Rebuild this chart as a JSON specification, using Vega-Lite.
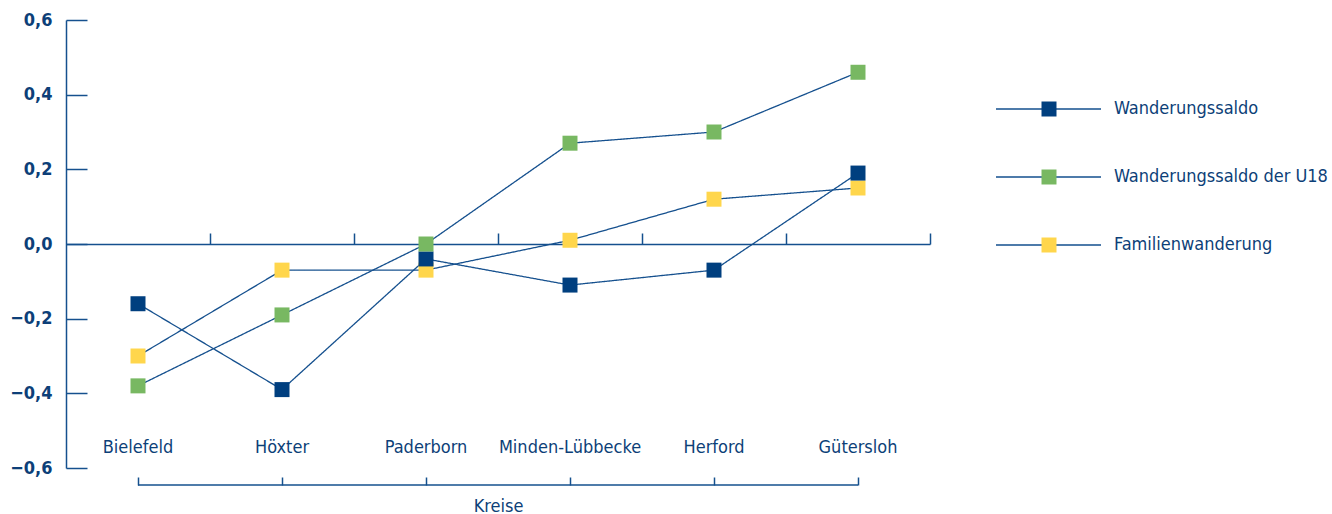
{
  "$schema": "https://vega.github.io/schema/vega-lite/v6.json",
  "width": 864,
  "height": 448,
  "autosize": {"type": "none"},
  "padding": {"left": 66, "top": 20, "right": 402, "bottom": 46},
  "background": "white",
  "config": {
    "view": {"stroke": null},
    "font": "DejaVu Sans Condensed, DejaVu Sans, sans-serif",
    "axis": {"grid": false, "labelFont": "DejaVu Sans Condensed, DejaVu Sans, sans-serif", "titleFont": "DejaVu Sans Condensed, DejaVu Sans, sans-serif", "labelColor": "#0d3f78", "titleColor": "#0d3f78", "domainColor": "#15508e", "tickColor": "#15508e", "domainWidth": 1.5, "tickWidth": 1.5},
    "axisY": {"orient": "left", "tickSize": -21, "labelPadding": 35, "labelFontSize": 18, "labelFontWeight": "bold", "labelColor": "#0d3f78"},
    "legend": {"labelFont": "DejaVu Sans Condensed, DejaVu Sans, sans-serif"}
  },
  "datasets": {
    "punkte": [
      {"kreis": "Bielefeld", "serie": "Familienwanderung", "wert": -0.30},
      {"kreis": "Höxter", "serie": "Familienwanderung", "wert": -0.07},
      {"kreis": "Paderborn", "serie": "Familienwanderung", "wert": -0.07},
      {"kreis": "Minden-Lübbecke", "serie": "Familienwanderung", "wert": 0.01},
      {"kreis": "Herford", "serie": "Familienwanderung", "wert": 0.12},
      {"kreis": "Gütersloh", "serie": "Familienwanderung", "wert": 0.15},
      {"kreis": "Bielefeld", "serie": "Wanderungssaldo", "wert": -0.16},
      {"kreis": "Höxter", "serie": "Wanderungssaldo", "wert": -0.39},
      {"kreis": "Paderborn", "serie": "Wanderungssaldo", "wert": -0.04},
      {"kreis": "Minden-Lübbecke", "serie": "Wanderungssaldo", "wert": -0.11},
      {"kreis": "Herford", "serie": "Wanderungssaldo", "wert": -0.07},
      {"kreis": "Gütersloh", "serie": "Wanderungssaldo", "wert": 0.19},
      {"kreis": "Bielefeld", "serie": "Wanderungssaldo der U18", "wert": -0.38},
      {"kreis": "Höxter", "serie": "Wanderungssaldo der U18", "wert": -0.19},
      {"kreis": "Paderborn", "serie": "Wanderungssaldo der U18", "wert": 0.0},
      {"kreis": "Minden-Lübbecke", "serie": "Wanderungssaldo der U18", "wert": 0.27},
      {"kreis": "Herford", "serie": "Wanderungssaldo der U18", "wert": 0.30},
      {"kreis": "Gütersloh", "serie": "Wanderungssaldo der U18", "wert": 0.46}
    ],
    "klammer": [
      {"von": "Bielefeld", "bis": "Gütersloh"}
    ]
  },
  "layer": [
    {
      "data": {"name": "punkte"},
      "mark": {"type": "line", "color": "#15508e", "strokeWidth": 1.3},
      "encoding": {
        "x": {
          "field": "kreis", "type": "nominal",
          "scale": {"type": "band", "paddingInner": 0, "paddingOuter": 0, "domain": ["Bielefeld", "Höxter", "Paderborn", "Minden-Lübbecke", "Herford", "Gütersloh"]},
          "axis": {"orient": "top", "offset": -224, "labels": false, "title": null, "tickSize": 11, "bandPosition": 1}
        },
        "y": {
          "field": "wert", "type": "quantitative", "title": null,
          "scale": {"domain": [-0.6, 0.6], "nice": false, "zero": false},
          "axis": {"values": [-0.6, -0.4, -0.2, 0, 0.2, 0.4, 0.6], "labelExpr": "replace(format(datum.value, '.1f'), '.', ',')", "title": null}
        },
        "strokeDash": {
          "field": "serie", "type": "nominal",
          "scale": {"domain": ["Wanderungssaldo", "Wanderungssaldo der U18", "Familienwanderung"], "range": [[1, 0], [1, 0], [1, 0]]},
          "legend": {"orient": "none", "legendX": 929, "legendY": 79, "title": null, "symbolType": "stroke", "symbolSize": 11025, "symbolStrokeColor": "#15508e", "symbolStrokeWidth": 1.5, "symbolDash": [1, 0], "labelFontSize": 20, "labelExpr": "''", "rowPadding": 48, "clipHeight": 20}
        }
      }
    },
    {
      "data": {"name": "punkte"},
      "mark": {"type": "point", "shape": "square", "filled": true, "size": 225, "opacity": 1},
      "encoding": {
        "x": {
          "field": "kreis", "type": "nominal",
          "axis": {"orient": "bottom", "offset": -32, "domain": false, "ticks": false, "labelFontSize": 18, "labelPadding": 2, "labelAngle": 0, "title": "Kreise", "titleFontSize": 18, "titleFontWeight": "normal", "titlePadding": 41}
        },
        "y": {
          "field": "wert", "type": "quantitative", "title": null,
          "axis": {"values": [-0.6, -0.4, -0.2, 0, 0.2, 0.4, 0.6], "labelExpr": "replace(format(datum.value, '.1f'), '.', ',')", "title": null}
        },
        "color": {
          "field": "serie", "type": "nominal",
          "scale": {"domain": ["Wanderungssaldo", "Wanderungssaldo der U18", "Familienwanderung"], "range": ["#003f7f", "#78b862", "#ffd64c"]},
          "legend": {"orient": "none", "legendX": 974, "legendY": 79, "title": null, "symbolType": "square", "symbolSize": 225, "symbolStrokeWidth": 0, "symbolOpacity": 1, "labelFontSize": 18, "labelColor": "#0d3f78", "labelOffset": 56, "rowPadding": 48, "clipHeight": 20, "labelLimit": 400}
        }
      }
    },
    {
      "data": {"name": "klammer"},
      "mark": {"type": "rule", "color": "#15508e", "strokeWidth": 1.5},
      "encoding": {
        "x": {
          "field": "von", "type": "nominal", "bandPosition": 0.5,
          "axis": {"orient": "bottom", "offset": 17, "domain": false, "labels": false, "title": null, "tickSize": -8}
        },
        "x2": {"field": "bis", "bandPosition": 0.5},
        "y": {"datum": -0.6456, "type": "quantitative", "title": null, "axis": {"values": [-0.6, -0.4, -0.2, 0, 0.2, 0.4, 0.6], "labelExpr": "replace(format(datum.value, '.1f'), '.', ',')", "title": null}}
      }
    }
  ],
  "resolve": {"axis": {"x": "independent"}, "legend": {"color": "independent", "strokeDash": "independent"}}
}
